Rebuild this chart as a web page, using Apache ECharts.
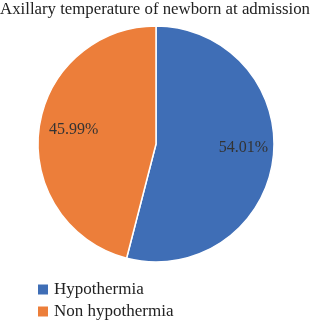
<!DOCTYPE html>
<html>
<head>
<meta charset="utf-8">
<script src="https://cdn.jsdelivr.net/npm/echarts@6/dist/echarts.min.js"></script>
<style>
  html, body { margin: 0; padding: 0; background: #fff; }
  #chart { width: 310px; height: 321px; }
</style>
</head>
<body>
<div id="chart"></div>
<script>
var categories = ['Hypothermia', 'Non hypothermia'];
var values = [54.01, 45.99];
var colors = ['#3F6EB6', '#EC7E3A'];
// small nudges for the percentage labels
var labelOffsets = [[0, -7], [5, -3]];

var chart = echarts.init(document.getElementById('chart'));

var pieData = categories.map(function (name, i) {
  return { name: name, value: values[i], itemStyle: { color: colors[i] } };
});
// invisible copy, only used to put the labels further out than 'inside' would
var labelData = categories.map(function (name, i) {
  return { name: name, value: values[i], label: { offset: labelOffsets[i] } };
});

var serif = '"Liberation Serif", "DejaVu Serif", serif';

var option = {
  animation: false,
  title: {
    text: 'Axillary temperature of newborn at admission',
    left: 'center',
    top: 1,
    padding: 0,
    textStyle: { fontFamily: serif, fontSize: 16.8, fontWeight: 'normal', color: '#222' }
  },
  legend: {
    orient: 'vertical',
    left: 36,
    top: 281,
    height: 60,
    padding: 0,
    itemWidth: 12,
    itemHeight: 12,
    itemGap: 5,
    icon: 'rect',
    data: categories,
    textStyle: { fontFamily: serif, fontSize: 17, color: '#222' }
  },
  series: [
    {
      name: 'temperature',
      type: 'pie',
      radius: 118,
      center: [156, 144],
      startAngle: 90,
      clockwise: true,
      data: pieData,
      label: { show: false },
      labelLine: { show: false },
      itemStyle: { borderColor: '#fff', borderWidth: 1.5 },
      silent: true
    },
    {
      name: 'labels',
      type: 'pie',
      radius: 170,
      center: [156, 144],
      startAngle: 90,
      clockwise: true,
      data: labelData,
      itemStyle: { color: 'rgba(0,0,0,0)' },
      label: {
        show: true,
        position: 'inside',
        formatter: function (p) { return p.value.toFixed(2) + '%'; },
        fontFamily: serif,
        fontSize: 16,
        color: '#333'
      },
      labelLine: { show: false },
      silent: true,
      z: 5
    }
  ]
};

chart.setOption(option);
</script>
</body>
</html>
